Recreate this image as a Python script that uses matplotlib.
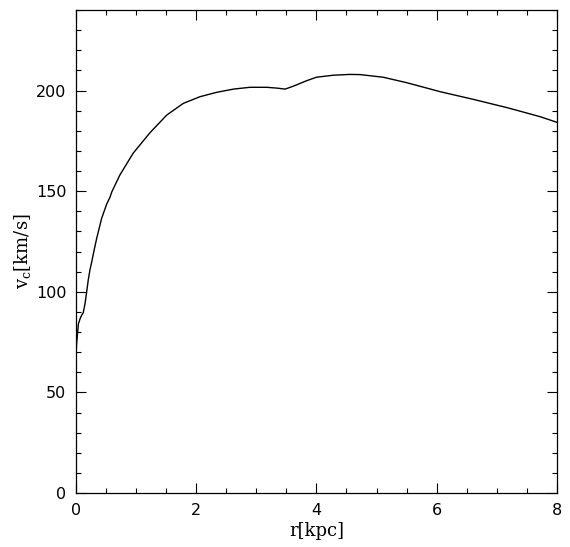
import matplotlib
matplotlib.use("Agg")
import matplotlib.pyplot as plt
from matplotlib.ticker import MultipleLocator

# rotation curve
r_kpc = [0.0, 0.01, 0.04, 0.067, 0.095, 0.12, 0.15, 0.178, 0.205, 0.233, 0.26,
         0.29, 0.344, 0.427, 0.51, 0.566, 0.594, 0.677, 0.73, 0.95, 1.23, 1.51,
         1.785, 2.06, 2.34, 2.62, 2.895, 3.17, 3.34, 3.48, 3.62, 3.84, 4.0,
         4.28, 4.56, 4.73, 5.11, 5.50, 6.06, 6.61, 7.17, 7.72, 8.0]
v_c = [68, 74, 84, 86.5, 88.4, 89.5, 94.0, 100, 106, 111, 114.5,
       119, 126.5, 136.5, 143.5, 147, 149.5, 154.7, 158, 168.8, 179, 187.8,
       193.6, 196.9, 199.1, 200.7, 201.6, 201.6, 201.2, 200.7, 202.2, 204.9, 206.6,
       207.6, 208.0, 207.9, 206.6, 203.9, 199.4, 195.6, 191.5, 187.0, 184.2]

fig = plt.figure(figsize=(5.70, 5.47), dpi=100)
ax = fig.add_axes([0.1333, 0.0987, 0.8437, 0.883])
ax.plot(r_kpc, v_c, color="black", lw=1.0)

ax.set_xlim(0, 8)
ax.set_ylim(0, 240)
ax.xaxis.set_major_locator(MultipleLocator(2))
ax.xaxis.set_minor_locator(MultipleLocator(0.5))
ax.yaxis.set_major_locator(MultipleLocator(50))
ax.yaxis.set_minor_locator(MultipleLocator(10))
ax.tick_params(which="both", direction="in", top=True, right=True,
               labelsize=11.5, width=0.8)
ax.tick_params(which="major", length=7, pad=7)
ax.tick_params(which="minor", length=3.6)
for s in ax.spines.values():
    s.set_linewidth(0.9)

ax.set_xlabel("r[kpc]", family="DejaVu Serif", fontsize=13, labelpad=3)
ax.set_ylabel("v$_\\mathregular{c}$[km/s]", family="DejaVu Serif", fontsize=13,
              labelpad=2)

fig.savefig("out.png", dpi=100)
